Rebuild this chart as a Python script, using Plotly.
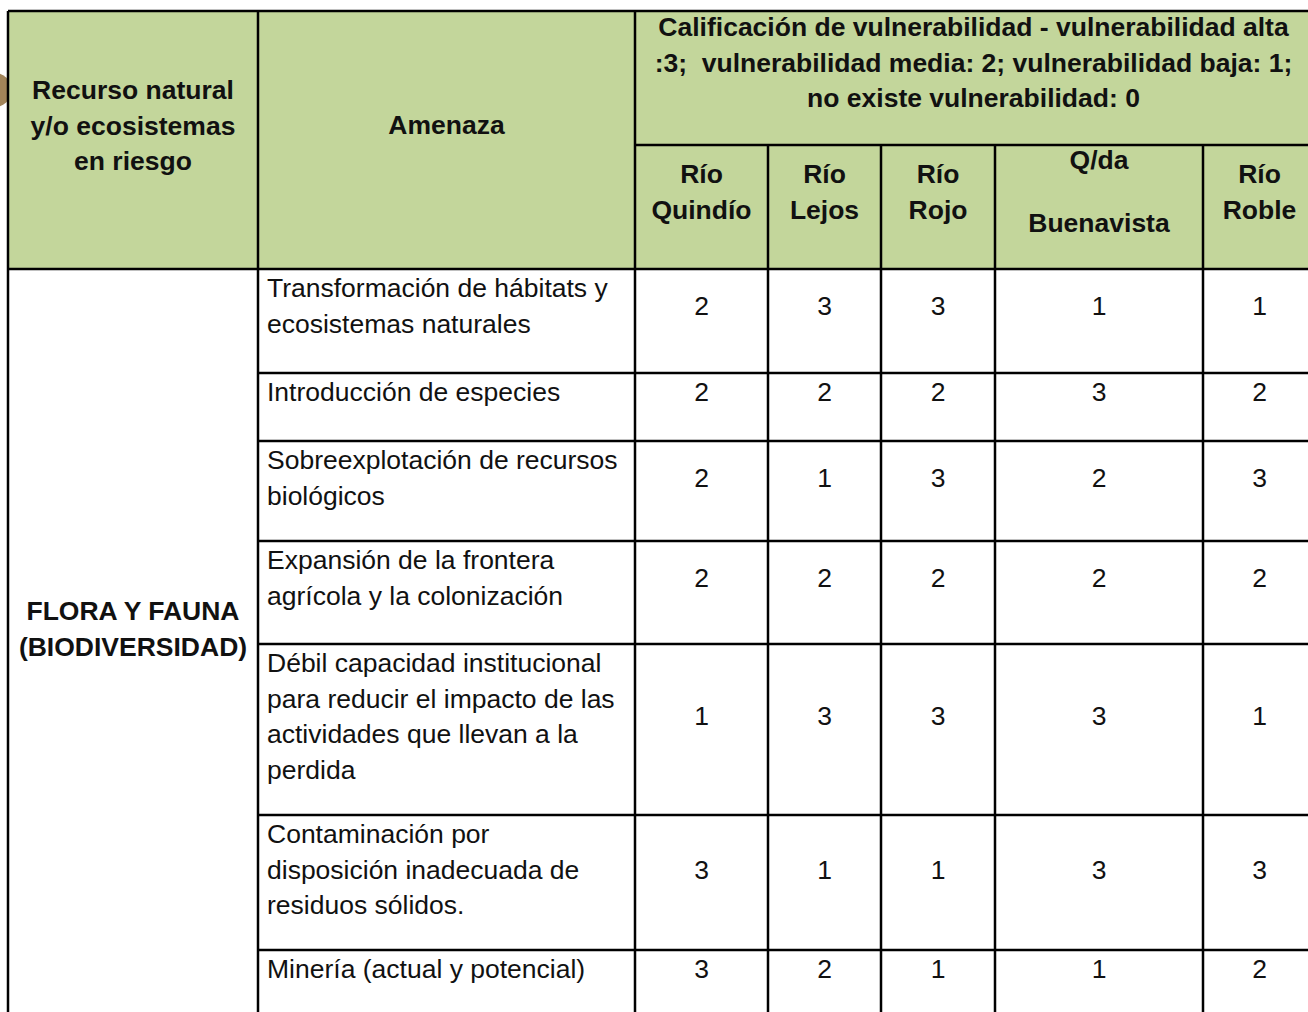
import plotly.graph_objects as go

# ---------------- data ----------------
header_resource = ["Recurso natural", "y/o ecosistemas", "en riesgo"]
header_threat = ["Amenaza"]
header_rating = [
    "Calificación de vulnerabilidad - vulnerabilidad alta",
    ":3;  vulnerabilidad media: 2; vulnerabilidad baja: 1;",
    "no existe vulnerabilidad: 0",
]
rivers = [
    ["Río", "Quindío"],
    ["Río", "Lejos"],
    ["Río", "Rojo"],
    ["Q/da", "Buenavista"],
    ["Río", "Roble"],
]
resource = ["FLORA Y FAUNA", "(BIODIVERSIDAD)"]
threats = [
    ["Transformación de hábitats y", "ecosistemas naturales"],
    ["Introducción de especies"],
    ["Sobreexplotación de recursos", "biológicos"],
    ["Expansión de la frontera", "agrícola y la colonización"],
    ["Débil capacidad institucional", "para reducir el impacto de las",
     "actividades que llevan a la", "perdida"],
    ["Contaminación por", "disposición inadecuada de", "residuos sólidos."],
    ["Minería (actual y potencial)"],
]
rio_quindio = [2, 2, 2, 2, 1, 3, 3]
rio_lejos = [3, 2, 1, 2, 3, 1, 2]
rio_rojo = [3, 2, 3, 2, 3, 1, 1]
qda_buenavista = [1, 3, 2, 2, 3, 3, 1]
rio_roble = [1, 2, 3, 2, 1, 3, 2]
values = [rio_quindio, rio_lejos, rio_rojo, qda_buenavista, rio_roble]

# ---------------- layout geometry ----------------
W, H = 1308, 1012
col_x = [8, 258, 635, 768, 881, 995, 1203, 1316]
y_top, y_sub, y_head = 11, 145, 269
row_y = [269, 373, 441, 541, 644, 815, 950, 1080]
LS = 35.5          # line spacing
FS = 26.5          # font size
DY = 2.5           # baseline adjustment
FONT = "Liberation Sans, Arial, sans-serif"
GREEN = "#c3d69b"
LW = 2.5

fig = go.Figure()
shapes = []

# brown artefact at left edge
shapes.append(dict(type="circle", xref="x", yref="y", x0=-30, x1=12, y0=72, y1=108,
                   fillcolor="#8a6530", line=dict(width=0), layer="below", opacity=0.8))
# header fill
shapes.append(dict(type="rect", xref="x", yref="y", x0=col_x[0], x1=col_x[-1],
                   y0=y_top, y1=y_head, fillcolor=GREEN, line=dict(width=0), layer="below"))

def line(x0, y0, x1, y1):
    shapes.append(dict(type="line", xref="x", yref="y", x0=x0, y0=y0, x1=x1, y1=y1,
                       line=dict(color="black", width=LW)))

bottom = row_y[-1]
line(col_x[0], y_top, col_x[-1], y_top)
line(col_x[0], y_top, col_x[0], bottom)
line(col_x[1], y_top, col_x[1], bottom)
line(col_x[2], y_top, col_x[2], bottom)
line(col_x[2], y_sub, col_x[-1], y_sub)
for cx in col_x[3:7]:
    line(cx, y_sub, cx, bottom)
line(col_x[0], y_head, col_x[-1], y_head)
for ry in row_y[1:-1]:
    line(col_x[1], ry, col_x[-1], ry)

# ---------------- text ----------------
tx, ty, tt, tp = [], [], [], []

def add(x, y, text, pos, bold=False):
    tx.append(x); ty.append(y + DY)
    tt.append(f"<b>{text}</b>" if bold else text)
    tp.append(pos)

c0 = (col_x[0] + col_x[1]) / 2
for i, s in enumerate(header_resource):
    add(c0, 90 + i * LS, s, "middle center", True)
add((col_x[1] + col_x[2]) / 2, 125, header_threat[0], "middle center", True)
for i, s in enumerate(header_rating):
    add((col_x[2] + col_x[-1]) / 2 - 2, 27 + i * LS, s, "middle center", True)
for j, lines in enumerate(rivers):
    cx = (col_x[2 + j] + col_x[3 + j]) / 2
    if j == 3:
        add(cx, 160, lines[0], "middle center", True)
        add(cx, 223, lines[1], "middle center", True)
    else:
        for i, s in enumerate(lines):
            add(cx, 174 + i * LS, s, "middle center", True)

for i, s in enumerate(resource):
    add(c0, 611 + i * LS, s, "middle center", True)

for r, lines in enumerate(threats):
    first = row_y[r] + 19
    for i, s in enumerate(lines):
        add(col_x[1] + 9, first + i * LS, s, "middle right")
    mid = first + (len(lines) - 1) * LS / 2
    for j, vals in enumerate(values):
        cx = (col_x[2 + j] + col_x[3 + j]) / 2
        add(cx, mid, str(vals[r]), "middle center")

fig.add_trace(go.Scatter(
    x=tx, y=ty, text=tt, mode="text", textposition=tp,
    textfont=dict(family=FONT, size=FS, color="#111111"),
    hoverinfo="skip", showlegend=False, cliponaxis=False,
))

fig.update_layout(
    width=W, height=H,
    margin=dict(l=0, r=0, t=0, b=0),
    paper_bgcolor="white", plot_bgcolor="white",
    shapes=shapes,
    xaxis=dict(range=[0, W], visible=False, fixedrange=True),
    yaxis=dict(range=[H, 0], visible=False, fixedrange=True),
    showlegend=False,
)

fig.write_html(
    "out.html",
    config={"displayModeBar": False},
    post_script="document.body.style.margin='0';document.body.style.overflow='hidden';",
)
